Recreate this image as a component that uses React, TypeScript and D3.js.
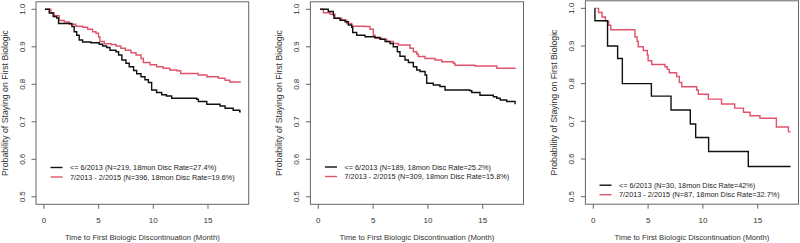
import React from "react";
import * as d3 from "d3";

// ---- Data (time in months, survival probability), step functions ----
const p1Early: [number, number][] = [
  [0.1, 1.0], [0.49, 0.99], [0.85, 0.981], [1.16, 0.977], [1.34, 0.962], [2.56, 0.954], [2.77, 0.94],
  [3.0, 0.931], [3.23, 0.918], [3.54, 0.913], [4.3, 0.911], [5.06, 0.907], [5.37, 0.902], [5.73, 0.898],
  [6.04, 0.891], [6.59, 0.887], [6.83, 0.878], [7.13, 0.865], [7.5, 0.856], [7.8, 0.847], [8.2, 0.837],
  [8.48, 0.828], [8.88, 0.82], [9.24, 0.812], [9.55, 0.805], [9.85, 0.785], [10.3, 0.778], [10.77, 0.772],
  [11.2, 0.769], [11.68, 0.763], [13.97, 0.76], [14.12, 0.754], [14.89, 0.747], [16.1, 0.742],
  [16.56, 0.736], [17.3, 0.731], [17.9, 0.727], [18.0, 0.727],
];
const p1Late: [number, number][] = [
  [0.1, 1.0], [0.64, 0.99], [0.94, 0.983], [1.4, 0.97], [1.86, 0.966], [2.32, 0.96], [2.93, 0.955],
  [3.54, 0.952], [4.0, 0.947], [4.45, 0.94], [4.76, 0.936], [5.0, 0.926], [5.12, 0.914], [5.52, 0.908],
  [6.13, 0.906], [6.59, 0.902], [7.04, 0.896], [7.44, 0.891], [7.96, 0.884], [8.42, 0.878], [8.88, 0.869],
  [9.09, 0.858], [9.7, 0.852], [10.3, 0.847], [10.9, 0.843], [11.5, 0.838], [12.14, 0.836], [12.5, 0.829],
  [14.1, 0.825], [14.9, 0.82], [15.95, 0.816], [16.56, 0.811], [17.0, 0.806], [18.0, 0.806],
];
const p2Early: [number, number][] = [
  [0.16, 1.0], [0.91, 0.994], [1.37, 0.985], [1.43, 0.976], [1.98, 0.971], [2.44, 0.967], [2.74, 0.958],
  [3.05, 0.952], [3.14, 0.938], [3.5, 0.931], [4.26, 0.927], [5.17, 0.925], [5.63, 0.92], [6.09, 0.914],
  [6.54, 0.909], [6.84, 0.9], [7.21, 0.887], [7.45, 0.875], [7.91, 0.865], [8.22, 0.858], [8.67, 0.847],
  [8.98, 0.838], [9.28, 0.834], [9.74, 0.825], [9.89, 0.803], [10.49, 0.798], [11.1, 0.794],
  [11.56, 0.785], [13.84, 0.783], [14.0, 0.778], [14.75, 0.771], [15.97, 0.767], [16.28, 0.763],
  [16.6, 0.758], [17.19, 0.754], [17.95, 0.749], [18.0, 0.749],
];
const p2Late: [number, number][] = [
  [0.16, 1.0], [0.46, 0.991], [1.07, 0.987], [1.52, 0.976], [2.13, 0.971], [2.59, 0.962], [3.05, 0.955],
  [4.26, 0.954], [4.72, 0.947], [5.02, 0.931], [5.17, 0.923], [5.78, 0.92], [6.24, 0.914], [6.84, 0.909],
  [7.3, 0.905], [8.37, 0.896], [8.67, 0.887], [8.98, 0.881], [9.12, 0.874], [9.74, 0.869], [10.65, 0.865],
  [11.26, 0.86], [12.32, 0.856], [12.47, 0.851], [14.3, 0.849], [16.28, 0.843], [18.0, 0.843],
];
const p3Early: [number, number][] = [
  [0.1, 1.0], [0.15, 0.967], [1.3, 0.9], [2.22, 0.867], [2.65, 0.8], [5.3, 0.767], [7.09, 0.73],
  [8.85, 0.693], [9.34, 0.657], [10.52, 0.62], [14.14, 0.58], [18.0, 0.58],
];
const p3Late: [number, number][] = [
  [0.3, 1.0], [0.48, 0.989], [0.8, 0.977], [1.1, 0.966], [1.4, 0.955], [1.6, 0.943], [3.8, 0.924],
  [4.0, 0.912], [4.1, 0.898], [4.56, 0.888], [4.93, 0.876], [5.0, 0.861], [5.33, 0.851], [6.54, 0.845],
  [6.75, 0.838], [6.93, 0.829], [7.6, 0.819], [7.85, 0.803], [8.07, 0.792], [9.43, 0.783], [9.58, 0.772],
  [10.5, 0.759], [11.7, 0.746], [12.9, 0.735], [13.7, 0.724], [14.3, 0.715], [15.2, 0.708],
  [16.7, 0.685], [17.8, 0.672], [18.0, 0.672],
];

const xTicks = [0, 5, 10, 15];
const yTicks = [0.5, 0.6, 0.7, 0.8, 0.9, 1.0];
const xTitle = "Time to First Biologic Discontinuation (Month)";
const yTitle = "Probability of Staying on First Biologic";
const legend1 = ["<= 6/2013 (N=219, 18mon Disc Rate=27.4%)", "7/2013 - 2/2015 (N=396, 18mon Disc Rate=19.6%)"];
const legend2 = ["<= 6/2013 (N=189, 18mon Disc Rate=25.2%)", "7/2013 - 2/2015 (N=309, 18mon Disc Rate=15.8%)"];
const legend3 = ["<= 6/2013 (N=30, 18mon Disc Rate=42%)", "7/2013 - 2/2015 (N=87, 18mon Disc Rate=32.7%)"];

const BLACK = "#111111";
const RED = "#DF536B";
const FONT = "Liberation Sans, Arial, sans-serif";

type PanelProps = {
  left: number; right: number; top: number; bottom: number;
  early: [number, number][]; late: [number, number][];
  labels: string[]; legX: number; legY: number;
};

function Panel({ left, right, top, bottom, early, late, labels, legX, legY }: PanelProps) {
  const x = d3.scaleLinear().domain([-0.72, 18.72]).range([left, right]);
  const y = d3.scaleLinear().domain([0.48, 1.02]).range([bottom, top]);
  const line = d3.line<[number, number]>().x(d => x(d[0])).y(d => y(d[1])).curve(d3.curveStepAfter);
  return (
    <g fontFamily={FONT}>
      <rect x={left} y={top} width={right - left} height={bottom - top} fill="none" stroke="#666" strokeWidth={1} />
      {xTicks.map(t => (
        <g key={"x" + t}>
          <line x1={x(t)} x2={x(t)} y1={bottom} y2={bottom + 4.5} stroke="#666" />
          <text x={x(t)} y={bottom + 19} fontSize={8} textAnchor="middle" fill="#333">{t}</text>
        </g>
      ))}
      {yTicks.map(v => (
        <g key={"y" + v}>
          <line x1={left - 4.5} x2={left} y1={y(v)} y2={y(v)} stroke="#666" />
          <text transform={`translate(${left - 11},${y(v)}) rotate(-90)`} fontSize={8} textAnchor="middle" fill="#333">{v.toFixed(1)}</text>
        </g>
      ))}
      <text x={(left + right) / 2} y={240} fontSize={7.7} textAnchor="middle" fill="#333">{xTitle}</text>
      <text transform={`translate(${left - 28.5},${(top + bottom) / 2}) rotate(-90)`} fontSize={8.7} textAnchor="middle" fill="#333">{yTitle}</text>
      <path d={line(late) || ""} fill="none" stroke={RED} strokeWidth={1.4} />
      <path d={line(early) || ""} fill="none" stroke={BLACK} strokeWidth={1.4} />
      {[BLACK, RED].map((c, i) => (
        <g key={c}>
          <line x1={legX} x2={legX + 12} y1={legY + i * 9.5} y2={legY + i * 9.5} stroke={c} strokeWidth={1.4} />
          <text x={legX + 19.5} y={legY + i * 9.5 + 2.7} fontSize={7.3} fill="#222">{labels[i]}</text>
        </g>
      ))}
    </g>
  );
}

export default function App() {
  return (
    <svg width={800} height={243} style={{ position: "absolute", left: 0, top: 0, background: "#fff" }}>
      <rect width={800} height={243} fill="#fff" />
      <Panel left={36} right={248.7} top={1.8} bottom={204.3} early={p1Early} late={p1Late} labels={legend1} legX={50.5} legY={167.5} />
      <Panel left={310.4} right={523.5} top={1.8} bottom={204.3} early={p2Early} late={p2Late} labels={legend2} legX={325} legY={167} />
      <Panel left={585.4} right={798.5} top={0.8} bottom={204.2} early={p3Early} late={p3Late} labels={legend3} legX={599.5} legY={185.2} />
    </svg>
  );
}
